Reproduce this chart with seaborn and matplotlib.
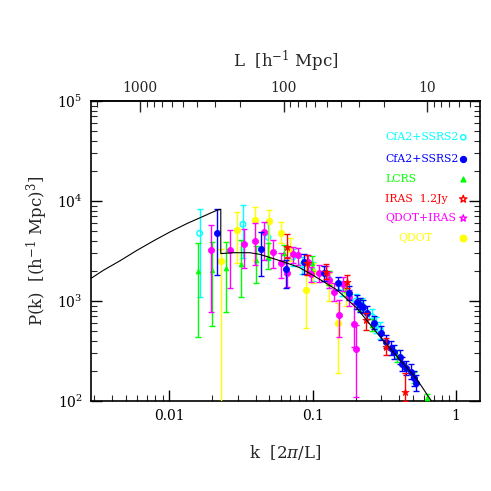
import numpy as np
import pandas as pd
import matplotlib
matplotlib.use("Agg")
import matplotlib.pyplot as plt
import seaborn as sns
from matplotlib.ticker import FuncFormatter, NullFormatter, FixedLocator

# ---------------- data ----------------
# model curve
curve_k = [0.00279, 0.00348, 0.00455, 0.00596, 0.00782, 0.0102, 0.0134, 0.0175, 0.0217,
           0.0229, 0.0229, 0.0278, 0.0365, 0.0428, 0.0624, 0.0803, 0.1, 0.148, 0.204,
           0.2826, 0.39, 0.538, 0.668, 0.69]
curve_P = [1650, 2030, 2530, 3210, 4010, 4930, 5980, 7080, 8130,
           8260, 2980, 3040, 3040, 2930, 2470, 2170, 1820, 1290, 845,
           475, 277, 162, 102, 95]

# CfA2+SSRS2 (open)
cfa_o_k = [0.0163, 0.0327, 0.049, 0.073, 0.085, 0.10, 0.13, 0.16, 0.20, 0.22, 0.26, 0.275, 0.297]
cfa_o_P = [4750, 5850, 4330, 2750, 2300, 2000, 1650, 1350, 1000, 912, 700, 575, 513]
cfa_o_hi = [8300, 9100, 6000, 3300, 2750, 2450, 2000, 1600, 1180, 1080, 830, 690, 620]
cfa_o_lo = [1090, 2670, 2600, 2250, 1850, 1600, 1350, 1120, 840, 770, 590, 480, 420]

# CfA2+SSRS2 (filled)
cfa_f_k = [0.0217, 0.0435, 0.065, 0.0875, 0.12, 0.15, 0.18, 0.204, 0.215, 0.225, 0.24,
           0.267, 0.30, 0.323, 0.354, 0.369, 0.406, 0.423, 0.446, 0.483, 0.51, 0.524]
cfa_f_P = [4750, 3290, 2100, 2470, 1900, 1500, 1200, 984, 912, 880, 765,
           607, 480, 392, 337, 311, 277, 233, 212, 196, 168, 150]
cfa_f_hi = [8300, 4930, 2600, 2950, 2250, 1750, 1400, 1150, 1060, 1020, 890,
            710, 560, 460, 395, 365, 325, 275, 250, 232, 200, 180]
cfa_f_lo = [1820, 1780, 1350, 1880, 1600, 1280, 1030, 840, 780, 750, 655,
            520, 410, 335, 288, 265, 236, 198, 180, 166, 142, 125]

# LCRS
lcrs_k = [0.0158, 0.0198, 0.025, 0.0315, 0.0404, 0.049, 0.063, 0.0987, 0.13, 0.17,
          0.215, 0.26, 0.39, 0.51, 0.632]
lcrs_P = [2010, 2040, 2120, 2330, 2570, 2770, 3000, 2380, 1700, 1300, 912, 575, 282, 172, 106]
lcrs_hi = [3780, 3920, 3920, 4070, 3550, 3780, 3630, 2800, 2000, 1500, 1050, 660, 320, 195, 118]
lcrs_lo = [440, 560, 770, 1090, 1520, 2090, 2420, 2000, 1450, 1120, 790, 500, 248, 152, 95]

# IRAS 1.2Jy
iras_k = [0.0668, 0.092, 0.125, 0.174, 0.237, 0.323, 0.4385]
iras_P = [3490, 2380, 1950, 1560, 645, 349, 124]
iras_hi = [4630, 2880, 2350, 1800, 766, 424, 190]
iras_lo = [2670, 1820, 1650, 1350, 513, 288, 101]

# QDOT+IRAS
qi_k = [0.0196, 0.0264, 0.033, 0.0399, 0.0462, 0.0531, 0.0599, 0.066, 0.0733, 0.0795,
        0.0935, 0.097, 0.11, 0.1245, 0.131, 0.14, 0.152, 0.164, 0.18, 0.195, 0.2018]
qi_P = [3240, 3240, 3720, 4010, 4860, 3110, 2420, 1920, 2950, 2880,
        2470, 1860, 1890, 1890, 1620, 1240, 724, 1480, 1100, 590, 330]
qi_hi = [5750, 5130, 5210, 6000, 6120, 4070, 3000, 2770, 3500, 3400,
         2900, 2200, 2300, 2250, 1950, 1500, 1020, 1750, 1300, 950, 575]
qi_lo = [780, 1340, 2120, 2300, 2570, 2120, 1680, 1390, 2400, 2300,
         2000, 1550, 1550, 1580, 1350, 1000, 440, 1250, 900, 350, 110]

# QDOT
qdot_k = [0.0228, 0.0299, 0.0399, 0.0498, 0.0599, 0.0696, 0.0899, 0.101, 0.13, 0.15, 0.17]
qdot_P = [2530, 5130, 6460, 6350, 4820, 3290, 1290, 1960, 1500, 598, 1250]
qdot_hi = [3300, 7820, 8770, 8130, 6200, 4300, 2570, 2400, 1900, 955, 1500]
qdot_lo = [1, 2380, 2600, 2690, 3780, 2500, 533, 1500, 1000, 189, 900]

legend_labels = ["CfA2+SSRS2", "CfA2+SSRS2", "LCRS", "IRAS  1.2Jy", "QDOT+IRAS", "QDOT"]

# top-axis (L) ticks
L_major = [1000, 100, 10]
L_minor = [2000, 900, 800, 700, 600, 500, 400, 300, 200,
           90, 80, 70, 60, 50, 40, 30, 20, 9, 8, 7, 6, 5]

# ---------------- style ----------------
sns.set_style("ticks")
plt.rcParams["font.family"] = ["DejaVu Serif"]
plt.rcParams["mathtext.fontset"] = "dejavuserif"

fig = plt.figure(figsize=(4.91, 4.91), dpi=100)
ax = fig.add_axes([91 / 491, 90 / 491, 389 / 491, 300 / 491])
ax.set_xscale("log")
ax.set_yscale("log")

series = [
    ("cfa_o", cfa_o_k, cfa_o_P, cfa_o_hi, cfa_o_lo, "#00FFFF", "o", 16, "none"),
    ("qdot", qdot_k, qdot_P, qdot_hi, qdot_lo, "#FFFF00", "o", 22, "fill"),
    ("lcrs", lcrs_k, lcrs_P, lcrs_hi, lcrs_lo, "#00FF00", "^", 12, "fill"),
    ("qi", qi_k, qi_P, qi_hi, qi_lo, "#FF00FF", "8", 22, "fill"),
    ("cfa_f", cfa_f_k, cfa_f_P, cfa_f_hi, cfa_f_lo, "#0000FF", "o", 20, "fill"),
    ("iras", iras_k, iras_P, iras_hi, iras_lo, "#FF0000", "*", 30, "fill"),
]

z = 2
for name, k, P, hi, lo, col, mk, s, fill in series:
    k = np.array(k); P = np.array(P, float); hi = np.array(hi, float); lo = np.array(lo, float)
    ax.errorbar(k, P, yerr=[P - lo, hi - P], fmt="none", ecolor=col, elinewidth=1.0,
                capsize=2.5, capthick=1.0, zorder=z)
    df = pd.DataFrame({"k": k, "P": P})
    if fill == "none":
        sns.scatterplot(data=df, x="k", y="P", marker=mk, s=s, facecolor="none",
                        edgecolor=col, linewidth=1.0, ax=ax, zorder=z + 0.5)
    else:
        sns.scatterplot(data=df, x="k", y="P", marker=mk, s=s, color=col,
                        edgecolor=col, linewidth=0.5, ax=ax, zorder=z + 0.5)
    z += 1

curve = pd.DataFrame({"k": curve_k, "P": curve_P})
sns.lineplot(data=curve, x="k", y="P", sort=False, estimator=None, color="black",
             linewidth=0.8, ax=ax, zorder=20)

ax.set_xlim(0.00285, 1.47)
ax.set_ylim(100, 1e5)

# ---------------- legend (text + marker) ----------------
leg_cols = ["#00FFFF", "#0000FF", "#00FF00", "#FF0000", "#FF00FF", "#FFFF00"]
leg_y = [0.879, 0.807, 0.740, 0.673, 0.609, 0.542]
leg_x = [0.756, 0.756, 0.756, 0.756, 0.756, 0.790]
leg_mk = [("o", 14, "none"), ("o", 18, "fill"), ("^", 12, "fill"),
          ("*", 30, "none"), ("*", 26, "none"), ("o", 22, "fill")]
for lab, col, yy, xx, (mk, s, fill) in zip(legend_labels, leg_cols, leg_y, leg_x, leg_mk):
    ax.text(xx, yy, lab, color=col, fontsize=7.8, ha="left", va="center",
            transform=ax.transAxes)
    if fill == "none":
        ax.scatter([0.957], [yy], marker=mk, s=s, facecolor="none", edgecolor=col,
                   linewidth=1.0, transform=ax.transAxes, zorder=30)
    else:
        ax.scatter([0.957], [yy], marker=mk, s=s, color=col, transform=ax.transAxes,
                   zorder=30)

# ---------------- axes, ticks ----------------
for sp in ax.spines.values():
    sp.set_linewidth(1.2)
    sp.set_color("black")

fmt = FuncFormatter(lambda v, p: f"{v:g}")
ax.xaxis.set_major_formatter(fmt)
ax.xaxis.set_minor_formatter(NullFormatter())
ax.tick_params(which="major", direction="in", length=8, width=1, top=False, right=True,
               labelsize=10, pad=6, colors="black")
ax.tick_params(which="minor", direction="in", length=4.5, width=0.8, top=False, right=True)

ax.set_xlabel(r"k  [2$\pi$/L]", fontsize=12, labelpad=14)
ax.set_ylabel(r"P(k)  [(h$^{-1}$ Mpc)$^{3}$]", fontsize=12, labelpad=5)


def fwd(x):
    x = np.asarray(x, dtype=float)
    with np.errstate(divide="ignore", invalid="ignore"):
        return 2 * np.pi / x


sec = ax.secondary_xaxis("top", functions=(fwd, fwd))
sec.xaxis.set_major_locator(FixedLocator(L_major))
sec.xaxis.set_minor_locator(FixedLocator(L_minor))
sec.xaxis.set_major_formatter(fmt)
sec.xaxis.set_minor_formatter(NullFormatter())
sec.tick_params(which="major", direction="in", length=8, width=1, labelsize=10, pad=4)
sec.tick_params(which="minor", direction="in", length=4.5, width=0.8)
sec.spines["top"].set_linewidth(1.2)
sec.set_xlabel(r"L  [h$^{-1}$ Mpc]", fontsize=12, labelpad=10)

fig.savefig("out.png", dpi=100)
